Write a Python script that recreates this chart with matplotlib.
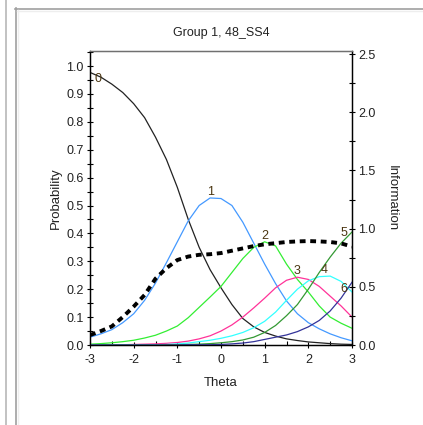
import matplotlib
matplotlib.use("Agg")
import matplotlib.pyplot as plt
from matplotlib.lines import Line2D
from matplotlib.ticker import MultipleLocator
import numpy as np

plt.rcParams['font.family'] = ['Liberation Sans', 'DejaVu Sans']

theta = [-3.0, -2.75, -2.5, -2.25, -2.0, -1.75, -1.5, -1.25, -1.0, -0.75, -0.5, -0.25,
         0.0, 0.25, 0.5, 0.75, 1.0, 1.25, 1.5, 1.75, 2.0, 2.25, 2.5, 2.75, 3.0]

cat0 = [0.977, 0.96, 0.935, 0.905, 0.865, 0.815, 0.745, 0.665, 0.565, 0.45, 0.35, 0.27,
        0.205, 0.145, 0.095, 0.065, 0.045, 0.032, 0.022, 0.016, 0.011, 0.008, 0.005, 0.003, 0.002]
cat1 = [0.028, 0.04, 0.055, 0.08, 0.112, 0.16, 0.222, 0.295, 0.37, 0.445, 0.5, 0.527,
        0.525, 0.5, 0.44, 0.365, 0.29, 0.22, 0.158, 0.112, 0.08, 0.058, 0.04, 0.026, 0.015]
cat2 = [0.003, 0.005, 0.008, 0.012, 0.017, 0.025, 0.035, 0.05, 0.068, 0.098, 0.135, 0.172,
        0.21, 0.26, 0.31, 0.35, 0.37, 0.355, 0.29, 0.235, 0.19, 0.14, 0.1, 0.078, 0.06]
cat3 = [0.0, 0.0, 0.001, 0.001, 0.002, 0.003, 0.004, 0.006, 0.009, 0.014, 0.022, 0.033,
        0.05, 0.072, 0.1, 0.133, 0.168, 0.205, 0.232, 0.243, 0.235, 0.21, 0.175, 0.14, 0.1]
cat4 = [0.0, 0.0, 0.0, 0.0, 0.0, 0.0, 0.001, 0.002, 0.004, 0.007, 0.012, 0.017,
        0.024, 0.033, 0.045, 0.062, 0.085, 0.118, 0.16, 0.2, 0.23, 0.245, 0.247, 0.228, 0.19]
cat5 = [0.0, 0.0, 0.0, 0.0, 0.0, 0.0, 0.0, 0.001, 0.001, 0.002, 0.003, 0.005,
        0.008, 0.012, 0.018, 0.028, 0.045, 0.07, 0.105, 0.145, 0.2, 0.26, 0.315, 0.365, 0.405]
cat6 = [0.0, 0.0, 0.0, 0.0, 0.0, 0.0, 0.0, 0.0, 0.0, 0.001, 0.001, 0.001,
        0.002, 0.004, 0.007, 0.012, 0.02, 0.028, 0.036, 0.048, 0.065, 0.088, 0.122, 0.168, 0.225]
information = [0.085, 0.12, 0.16, 0.24, 0.33, 0.43, 0.57, 0.66, 0.73, 0.76, 0.775, 0.78,
               0.79, 0.81, 0.83, 0.85, 0.865, 0.875, 0.885, 0.89, 0.893, 0.89, 0.885, 0.873, 0.845]

categories = ['0', '1', '2', '3', '4', '5', '6']
series = [cat0, cat1, cat2, cat3, cat4, cat5, cat6]
colors = ['#222222', '#4499ff', '#33ee33', '#ff3399', '#33ffff', '#339933', '#333399']
label_offsets = [(6, -9), (0, 0), (0, 0), (0, 0), (-4, 0), (-6, -5), (-6, -9)]

W, H = 423, 425
fig = plt.figure(figsize=(W / 100, H / 100), dpi=100)
fig.patch.set_facecolor('white')

# panel frame lines
def px_line(x0, y0, x1, y1, color, lw=1.0):
    fig.add_artist(Line2D([x0 / W, x1 / W], [1 - y0 / H, 1 - y1 / H],
                          transform=fig.transFigure, color=color, lw=lw))

px_line(5.5, 0, 5.5, H, '#b8b8b8', 1.2)
px_line(15.5, 8, 15.5, H, '#a0a0a0', 1.2)
px_line(15, 8.5, W, 8.5, '#a0a0a0', 1.2)
px_line(17.5, 10, 17.5, H, '#eeeeee', 1.0)
px_line(17, 10.5, W, 10.5, '#eeeeee', 1.0)

x0, x1, yt, yb = 90, 352, 51, 345
ax = fig.add_axes([x0 / W, 1 - yb / H, (x1 - x0) / W, (yb - yt) / H])
ax.set_facecolor('white')

for name, vals, col, off in zip(categories, series, colors, label_offsets):
    ax.plot(theta, vals, color=col, lw=0.9, zorder=3)
    i = int(np.argmax(vals))
    ax.annotate(name, (theta[i], vals[i]), xytext=off, textcoords='offset points',
                ha='center', va='bottom', fontsize=9, color='#4a3510', zorder=5)

ax.set_xlim(-3, 3)
ax.set_ylim(0, 1.0538)
ax.xaxis.set_minor_locator(MultipleLocator(0.5))
ax.yaxis.set_minor_locator(MultipleLocator(0.05))
ax.set_yticks(np.arange(0, 1.01, 0.1))
ax.set_yticklabels([f'{v:.1f}' for v in np.arange(0, 1.01, 0.1)])
ax.set_xticks([-3, -2, -1, 0, 1, 2, 3])
ax.set_xticklabels(['-3', '-2', '-1', '0', '1', '2', '3'])
ax.tick_params(axis='y', which='both', direction='inout', length=5, width=0.8,
               labelsize=9, pad=2, colors='black', labelcolor='#222222')
ax.tick_params(axis='x', which='major', direction='inout', length=5, width=0.8,
               labelsize=9, pad=4, labelcolor='#222222')
ax.tick_params(axis='x', which='minor', direction='in', length=3, width=0.8)
for s in ['left', 'right', 'bottom']:
    ax.spines[s].set_color('black')
    ax.spines[s].set_linewidth(0.9)
ax.spines['top'].set_color('#707070')
ax.spines['top'].set_linewidth(1.0)
ax.set_xlabel('Theta', fontsize=9.5, labelpad=8, color='#222222')
ax.set_ylabel('Probability', fontsize=9.5, labelpad=3, color='#222222')
ax.set_title('Group 1, 48_SS4', fontsize=9, pad=11, color='#222222')

ax2 = ax.twinx()
ax2.plot(theta, information, color='black', lw=2.8, linestyle=(0, (1.5, 1.2)), zorder=4)
ax2.set_ylim(0, 2.526)
ax2.set_yticks([0, 0.5, 1.0, 1.5, 2.0, 2.5])
ax2.set_yticklabels(['0.0', '0.5', '1.0', '1.5', '2.0', '2.5'])
ax2.yaxis.set_minor_locator(MultipleLocator(0.25))
ax2.tick_params(axis='y', which='both', direction='inout', length=5, width=0.8,
                labelsize=9, pad=2, labelcolor='#222222')
ax2.set_ylabel('Information', fontsize=9.5, rotation=270, labelpad=16, color='#222222')
for s in ['left', 'right', 'bottom']:
    ax2.spines[s].set_color('black')
    ax2.spines[s].set_linewidth(0.9)
ax2.spines['top'].set_color('#707070')

fig.savefig('out.png', dpi=100, facecolor='white')
